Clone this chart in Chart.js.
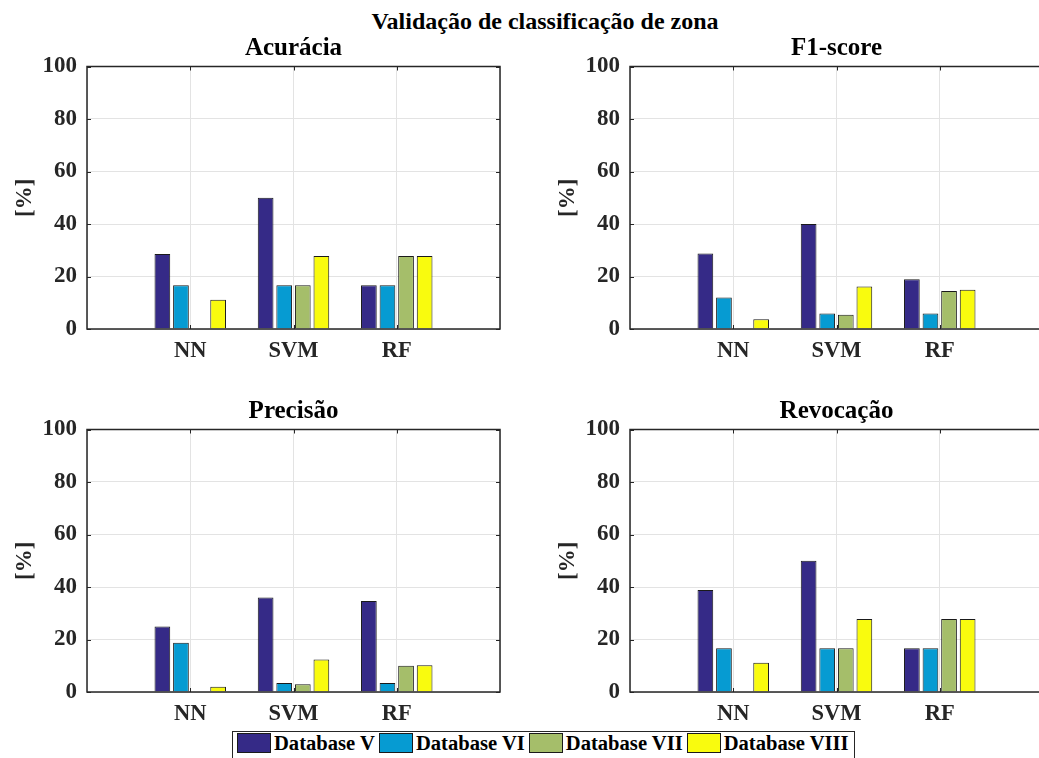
<!DOCTYPE html>
<html>
<head>
<meta charset="utf-8">
<script src="https://cdn.jsdelivr.net/npm/chart.js@4.4.1/dist/chart.umd.min.js"></script>
<style>
  html, body { margin: 0; padding: 0; background: #fff; overflow: hidden; }
  #fig { position: relative; width: 1039px; height: 758px; overflow: hidden; font-family: 'Liberation Serif', 'Times New Roman', serif; }
  canvas { position: absolute; }
  #mainTitle { position: absolute; left: 545px; top: 9px; transform: translateX(-50%); white-space: nowrap;
    font-weight: bold; font-size: 24px; line-height: 24px; color: #000; }
  #legend { position: absolute; left: 232px; top: 731px; width: 623px; height: 40px; border: 1px solid #262626;
    background: #fff; display: flex; align-items: flex-start; padding: 1px 0 0 4px; box-sizing: border-box; }
  .item { display: flex; align-items: center; margin-right: 4px; }
  .sw { width: 32px; height: 18px; border: 1px solid #1a1a1a; margin-right: 3px; }
  .lbl { font-weight: bold; font-size: 20.6px; line-height: 20px; color: #000; white-space: nowrap; }
</style>
</head>
<body>
<div id="fig">
<div id="mainTitle">Validação de classificação de zona</div>
<canvas id="acuraciaChart" width="520" height="335" style="left:0px;top:34px"></canvas>
<canvas id="f1Chart" width="520" height="335" style="left:543px;top:34px"></canvas>
<canvas id="precisaoChart" width="520" height="335" style="left:0px;top:397px"></canvas>
<canvas id="revocacaoChart" width="520" height="335" style="left:543px;top:397px"></canvas>
<div id="legend"></div>
</div>
<script>
// categorias (com posições vazias nas pontas, como no eixo do MATLAB)
const categories = ['NN', 'SVM', 'RF'];
const xLabels = ['', ...categories, ''];
const seriesNames = ['Database V', 'Database VI', 'Database VII', 'Database VIII'];
const seriesColors = ['#352a87', '#069bd2', '#a5be6a', '#f9fb0e'];
const yTicks = [0, 20, 40, 60, 80, 100];

// valores por série: [NN, SVM, RF]
const acuracia = [
  [28.6, 50.0, 16.7],
  [16.7, 16.7, 16.7],
  [0, 16.7, 27.8],
  [11.1, 27.8, 27.8]
];
const f1score = [
  [28.8, 40.0, 19.0],
  [12.0, 5.9, 5.9],
  [0, 5.4, 14.5],
  [3.7, 16.2, 15.0]
];
const precisao = [
  [25.0, 36.0, 34.7],
  [18.8, 3.4, 3.4],
  [0, 3.0, 10.0],
  [2.0, 12.4, 10.2]
];
const revocacao = [
  [38.9, 50.0, 16.7],
  [16.7, 16.7, 16.7],
  [0, 16.7, 27.8],
  [11.1, 27.8, 27.8]
];

const FONT = "'Liberation Serif', 'Times New Roman', serif";
const TICK_COLOR = '#262626';
const GRID_COLOR = '#e3e3e3';

// caixa do eixo + marcas de escala para dentro (estilo MATLAB)
// openRight: o eixo sai da figura pela direita, então não há borda direita visível
const boxPlugin = {
  id: 'box',
  afterDatasetsDraw(chart, args, opts) {
    const { ctx, chartArea: a, scales: { x, y } } = chart;
    ctx.save();
    ctx.strokeStyle = TICK_COLOR;
    ctx.lineWidth = 1;
    ctx.beginPath();
    x.ticks.forEach((t, i) => {
      if (!t.label) return;
      const px = Math.round(x.getPixelForTick(i)) + 0.5;
      ctx.moveTo(px, a.bottom); ctx.lineTo(px, a.bottom - 4);
      ctx.moveTo(px, a.top); ctx.lineTo(px, a.top + 4);
    });
    y.ticks.forEach((t, i) => {
      const py = Math.round(y.getPixelForTick(i)) + 0.5;
      ctx.moveTo(a.left, py); ctx.lineTo(a.left + 4, py);
      if (!opts.openRight) { ctx.moveTo(a.right, py); ctx.lineTo(a.right - 4, py); }
    });
    ctx.stroke();
    ctx.lineWidth = 1.5;
    ctx.beginPath();
    if (opts.openRight) {
      ctx.moveTo(a.right, a.top); ctx.lineTo(a.left, a.top);
      ctx.lineTo(a.left, a.bottom); ctx.lineTo(a.right, a.bottom);
    } else {
      ctx.rect(a.left, a.top, a.right - a.left, a.bottom - a.top);
    }
    ctx.stroke();
    ctx.restore();
  }
};

function makeChart(id, title, values, openRight) {
  const ctx = document.getElementById(id).getContext('2d');
  return new Chart(ctx, {
    type: 'bar',
    data: {
      labels: xLabels,
      datasets: seriesNames.map((name, k) => ({
        label: name,
        data: [null, ...values[k], null],
        backgroundColor: seriesColors[k],
        borderColor: '#1a1a1a',
        borderWidth: 1,
        categoryPercentage: 0.72,
        barPercentage: 0.845
      }))
    },
    options: {
      responsive: false,
      animation: false,
      layout: { padding: { left: 0, right: 20, top: 0, bottom: 0 } },
      plugins: {
        legend: { display: false },
        tooltip: { enabled: false },
        box: { openRight },
        title: {
          display: true,
          fullSize: false,
          text: title,
          color: '#000',
          font: { family: FONT, size: 25, weight: 'bold' },
          padding: { top: 0, bottom: 2.5 }
        }
      },
      scales: {
        x: {
          offset: false,
          grid: { color: GRID_COLOR, drawTicks: false, offset: false },
          border: { display: false },
          ticks: {
            color: TICK_COLOR, padding: 9, autoSkip: false, maxRotation: 0,
            font: { family: FONT, size: 22.5, weight: 'bold' }
          },
          afterFit: s => { s.height = 40; s.paddingLeft = 0; s.paddingRight = 0; }
        },
        y: {
          min: 0,
          max: 100,
          afterBuildTicks: s => { s.ticks = yTicks.map(v => ({ value: v })); },
          grid: { color: GRID_COLOR, drawTicks: false },
          border: { display: false },
          ticks: {
            color: TICK_COLOR, padding: 10,
            font: { family: FONT, size: 23, weight: 'bold' }
          },
          title: {
            display: true,
            text: '[%]',
            color: TICK_COLOR,
            font: { family: FONT, size: 23, weight: 'bold' },
            padding: { top: 11, bottom: 0 }
          },
          afterFit: s => { s.width = 87; }
        }
      }
    },
    plugins: [boxPlugin]
  });
}

makeChart('acuraciaChart', 'Acurácia', acuracia, false);
makeChart('f1Chart', 'F1-score', f1score, true);
makeChart('precisaoChart', 'Precisão', precisao, false);
makeChart('revocacaoChart', 'Revocação', revocacao, true);

// legenda compartilhada
const legend = document.getElementById('legend');
seriesNames.forEach((name, k) => {
  const item = document.createElement('div');
  item.className = 'item';
  const sw = document.createElement('div');
  sw.className = 'sw';
  sw.style.background = seriesColors[k];
  const lbl = document.createElement('span');
  lbl.className = 'lbl';
  lbl.textContent = name;
  item.appendChild(sw);
  item.appendChild(lbl);
  legend.appendChild(item);
});
</script>
</body>
</html>
